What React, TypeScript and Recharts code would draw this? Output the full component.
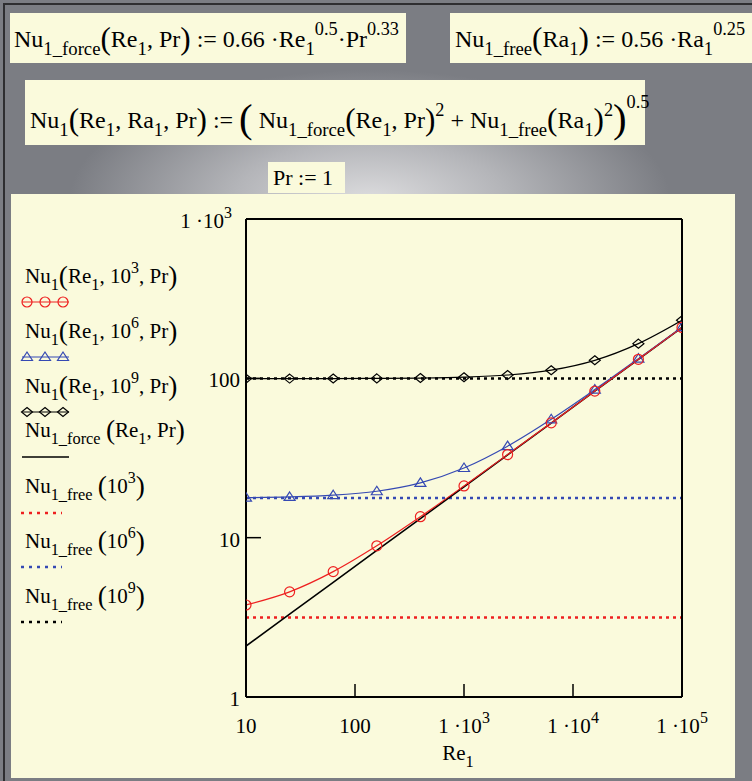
import React from "react";
import { LineChart, Line, XAxis, YAxis, ReferenceLine, Label } from "recharts";

// Re_1 sample points (log spaced)
const reValues = [10, 25.12, 63.1, 158.5, 398.1, 1000, 2512, 6310, 15849, 39811, 100000];
// Nu_1(Re_1, Ra_1, Pr) for Ra_1 = 10^3, 10^6, 10^9
const nuRa1e3 = [3.78, 4.57, 6.12, 8.89, 13.54, 21.11, 33.23, 52.52, 83.15, 131.7, 208.7];
const nuRa1e6 = [17.83, 18.01, 18.47, 19.56, 22.07, 27.37, 37.52, 55.33, 84.96, 132.9, 209.5];
const nuRa1e9 = [99.6, 99.63, 99.72, 99.92, 100.4, 101.7, 104.9, 112.5, 129.7, 165.1, 231.2];
// Nu_1_force(Re_1, Pr)
const nuForce = [2.09, 3.31, 5.24, 8.31, 13.17, 20.87, 33.08, 52.42, 83.09, 131.7, 208.7];
// Nu_1_free(Ra_1)
const freeRa1e3 = 3.15;
const freeRa1e6 = 17.71;
const freeRa1e9 = 99.58;

const xTicks = [10, 100, 1000, 10000, 100000];
const yTicks = [1, 10, 100, 1000];

const data = reValues.map((re, i) => ({
  re,
  ra3: nuRa1e3[i],
  ra6: nuRa1e6[i],
  ra9: nuRa1e9[i],
  force: nuForce[i],
}));

const RED = "#ee2020";
const BLUE = "#3549b3";
const BLACK = "#000000";
const YELLOW = "#fafadc";
const FONT = "'Liberation Serif', 'Times New Roman', serif";

// chart placement inside the page
const CHART_LEFT = 11;
const CHART_TOP = 194;
const CHART_W = 724;
const CHART_H = 584;
const PLOT_LEFT = 235;
const PLOT_BOTTOM = 503;

type Seg = { t: string; k?: "sub" | "sup" | "big" | "huge" | "sup2" };

function Rich({ x, y, size, segs, anchor = "start" }: { x: number; y: number; size: number; segs: Seg[]; anchor?: string }) {
  let cur = 0;
  return (
    <text x={x} y={y} fontSize={size} fontFamily={FONT} textAnchor={anchor as any} fill="#000" style={{ whiteSpace: "pre" }}>
      {segs.map((s, i) => {
        let target = 0;
        let fs = size;
        if (s.k === "sub") { target = size * 0.34; fs = size * 0.78; }
        if (s.k === "sup") { target = -size * 0.5; fs = size * 0.76; }
        if (s.k === "sup2") { target = -size * 0.85; fs = size * 0.76; }
        if (s.k === "big") { target = size * 0.1; fs = size * 1.3; }
        if (s.k === "huge") { target = size * 0.18; fs = size * 1.7; }
        const dy = target - cur;
        cur = target;
        return (
          <tspan key={i} dy={dy} fontSize={fs}>
            {s.t}
          </tspan>
        );
      })}
    </text>
  );
}

function tickSegs(v: number): Seg[] {
  if (v >= 1000) return [{ t: "1 ·10" }, { t: String(Math.round(Math.log10(v))), k: "sup" }];
  return [{ t: String(v) }];
}

const YTick = (props: any) => {
  const { payload } = props;
  const cy = payload.coordinate ?? props.y;
  const v = payload.value;
  return <Rich x={PLOT_LEFT - 6 - (v >= 1000 ? 8 : 0)} y={cy + 9} size={21} anchor="end" segs={tickSegs(v)} />;
};

const XTick = (props: any) => {
  const { payload } = props;
  const cx = payload.coordinate ?? props.x;
  return <Rich x={cx} y={PLOT_BOTTOM + 36} size={21} anchor="middle" segs={tickSegs(payload.value)} />;
};

const circleDot = (color: string) => (p: any) => (
  <circle key={`c${p.index}`} cx={p.cx} cy={p.cy} r={5} fill="none" stroke={color} strokeWidth={1.2} />
);
const triangleDot = (color: string) => (p: any) => (
  <path key={`t${p.index}`} d={`M${p.cx},${p.cy - 5} L${p.cx + 5.5},${p.cy + 3.5} L${p.cx - 5.5},${p.cy + 3.5} Z`} fill="none" stroke={color} strokeWidth={1.2} />
);
const diamondDot = (color: string) => (p: any) => (
  <path key={`d${p.index}`} d={`M${p.cx},${p.cy - 4.5} L${p.cx + 5.5},${p.cy} L${p.cx},${p.cy + 4.5} L${p.cx - 5.5},${p.cy} Z`} fill="none" stroke={color} strokeWidth={1.2} />
);

// legend entries: label, sample kind, colour, text baseline, sample y
const legendItems: { segs: Seg[]; kind: string; color: string; ty: number; sy: number }[] = [
  { segs: [{ t: "Nu" }, { t: "1", k: "sub" }, { t: "(", k: "big" }, { t: "Re" }, { t: "1", k: "sub" }, { t: ", 10" }, { t: "3", k: "sup" }, { t: ", Pr" }, { t: ")", k: "big" }], kind: "circle", color: RED, ty: 283, sy: 302 },
  { segs: [{ t: "Nu" }, { t: "1", k: "sub" }, { t: "(", k: "big" }, { t: "Re" }, { t: "1", k: "sub" }, { t: ", 10" }, { t: "6", k: "sup" }, { t: ", Pr" }, { t: ")", k: "big" }], kind: "triangle", color: BLUE, ty: 338, sy: 357 },
  { segs: [{ t: "Nu" }, { t: "1", k: "sub" }, { t: "(", k: "big" }, { t: "Re" }, { t: "1", k: "sub" }, { t: ", 10" }, { t: "9", k: "sup" }, { t: ", Pr" }, { t: ")", k: "big" }], kind: "diamond", color: BLACK, ty: 393, sy: 412 },
  { segs: [{ t: "Nu" }, { t: "1_force", k: "sub" }, { t: " " }, { t: "(", k: "big" }, { t: "Re" }, { t: "1", k: "sub" }, { t: ", Pr" }, { t: ")", k: "big" }], kind: "solid", color: BLACK, ty: 437, sy: 457 },
  { segs: [{ t: "Nu" }, { t: "1_free", k: "sub" }, { t: " " }, { t: "(", k: "big" }, { t: "10" }, { t: "3", k: "sup" }, { t: ")", k: "big" }], kind: "dotted", color: RED, ty: 493, sy: 513 },
  { segs: [{ t: "Nu" }, { t: "1_free", k: "sub" }, { t: " " }, { t: "(", k: "big" }, { t: "10" }, { t: "6", k: "sup" }, { t: ")", k: "big" }], kind: "dotted", color: BLUE, ty: 548, sy: 567 },
  { segs: [{ t: "Nu" }, { t: "1_free", k: "sub" }, { t: " " }, { t: "(", k: "big" }, { t: "10" }, { t: "9", k: "sup" }, { t: ")", k: "big" }], kind: "dotted", color: BLACK, ty: 603, sy: 622 },
];

function LegendSample({ kind, color, y }: { kind: string; color: string; y: number }) {
  const xs = [27, 45, 63];
  if (kind === "dotted") {
    return <line x1={21} x2={62} y1={y} y2={y} stroke={color} strokeWidth={2.5} strokeDasharray="3 5" />;
  }
  return (
    <g>
      <line x1={22} x2={69} y1={y} y2={y} stroke={color} strokeWidth={kind === "solid" ? 1.6 : 1.2} />
      {kind !== "solid" &&
        xs.map((x) => {
          if (kind === "circle") return <circle key={x} cx={x} cy={y} r={5} fill="none" stroke={color} strokeWidth={1.2} />;
          if (kind === "triangle") return <path key={x} d={`M${x},${y - 5} L${x + 5.5},${y + 3.5} L${x - 5.5},${y + 3.5} Z`} fill="none" stroke={color} strokeWidth={1.2} />;
          return <path key={x} d={`M${x},${y - 4.5} L${x + 5.5},${y} L${x},${y + 4.5} L${x - 5.5},${y} Z`} fill="none" stroke={color} strokeWidth={1.2} />;
        })}
    </g>
  );
}

const formula1: Seg[] = [{ t: "Nu" }, { t: "1_force", k: "sub" }, { t: "(", k: "big" }, { t: "Re" }, { t: "1", k: "sub" }, { t: ", Pr" }, { t: ")", k: "big" }, { t: " := 0.66 ·Re" }, { t: "1", k: "sub" }, { t: "0.5", k: "sup" }, { t: "·Pr" }, { t: "0.33", k: "sup" }];
const formula2: Seg[] = [{ t: "Nu" }, { t: "1_free", k: "sub" }, { t: "(", k: "big" }, { t: "Ra" }, { t: "1", k: "sub" }, { t: ")", k: "big" }, { t: " := 0.56 ·Ra" }, { t: "1", k: "sub" }, { t: "0.25", k: "sup" }];
const formula3: Seg[] = [
  { t: "Nu" }, { t: "1", k: "sub" }, { t: "(", k: "big" }, { t: "Re" }, { t: "1", k: "sub" }, { t: ", Ra" }, { t: "1", k: "sub" }, { t: ", Pr" }, { t: ")", k: "big" },
  { t: " := " }, { t: "(", k: "huge" }, { t: " Nu" }, { t: "1_force", k: "sub" }, { t: "(", k: "big" }, { t: "Re" }, { t: "1", k: "sub" }, { t: ", Pr" }, { t: ")", k: "big" }, { t: "2", k: "sup" },
  { t: " + Nu" }, { t: "1_free", k: "sub" }, { t: "(", k: "big" }, { t: "Ra" }, { t: "1", k: "sub" }, { t: ")", k: "big" }, { t: "2", k: "sup" }, { t: ")", k: "huge" }, { t: "0.5", k: "sup2" },
];
const formula4: Seg[] = [{ t: "Pr := 1" }];

export default function App() {
  return (
    <div
      style={{
        position: "absolute",
        left: 0,
        top: 0,
        width: 752,
        height: 781,
        background:
          "radial-gradient(ellipse 300px 130px at 370px 200px, #dcdcde 0%, #b4b5b9 45%, #7b7d83 100%), #7a7c82",
        overflow: "hidden",
      }}
    >
      {/* dark frame line on the left and top */}
      <div style={{ position: "absolute", left: 3, top: 3, width: 2, height: 778, background: "#2e2e30" }} />
      <div style={{ position: "absolute", left: 3, top: 3, width: 749, height: 2, background: "#2e2e30" }} />
      {/* worksheet region */}
      <div style={{ position: "absolute", left: CHART_LEFT, top: CHART_TOP, width: CHART_W, height: CHART_H, background: YELLOW }} />

      <svg width={752} height={194} style={{ position: "absolute", left: 0, top: 0 }}>
        <rect x={10} y={13} width={396} height={50} fill={YELLOW} />
        <rect x={450} y={13} width={302} height={50} fill={YELLOW} />
        <rect x={25} y={80} width={620} height={65} fill={YELLOW} />
        <rect x={268} y={162} width={77} height={31} fill={YELLOW} />
        <Rich x={14} y={47} size={24} segs={formula1} />
        <Rich x={455} y={47} size={24} segs={formula2} />
        <Rich x={30} y={128} size={24} segs={formula3} />
        <Rich x={273} y={185} size={22} segs={formula4} />
      </svg>

      <div style={{ position: "absolute", left: CHART_LEFT, top: CHART_TOP }}>
        <LineChart width={CHART_W} height={CHART_H} data={data} margin={{ top: 24, right: 52, bottom: 0, left: 0 }}>
          <XAxis
            dataKey="re"
            type="number"
            scale="log"
            domain={[10, 100000]}
            ticks={xTicks}
            allowDataOverflow
            height={81}
            axisLine={{ stroke: BLACK, strokeWidth: 2 }}
            tickLine={{ stroke: BLACK, strokeWidth: 1.5 }}
            tickSize={-13}
            tick={<XTick />}
            interval={0}
          >
            <Label
              content={(p: any) => {
                const vb = p.viewBox;
                return <Rich x={vb.x + vb.width / 2 - 6} y={vb.y + 63} size={21} anchor="middle" segs={[{ t: "Re" }, { t: "1", k: "sub" }]} />;
              }}
            />
          </XAxis>
          <XAxis
            xAxisId="top"
            orientation="top"
            dataKey="re"
            type="number"
            scale="log"
            domain={[10, 100000]}
            ticks={xTicks}
            allowDataOverflow
            height={1}
            axisLine={{ stroke: BLACK, strokeWidth: 2 }}
            tickLine={{ stroke: BLACK, strokeWidth: 1.5 }}
            tickSize={-13}
            tick={false}
            interval={0}
          />
          <YAxis
            type="number"
            scale="log"
            domain={[1, 1000]}
            ticks={yTicks}
            allowDataOverflow
            width={235}
            axisLine={{ stroke: BLACK, strokeWidth: 2 }}
            tickLine={{ stroke: BLACK, strokeWidth: 1.5 }}
            tickSize={-15}
            tick={<YTick />}
            interval={0}
          />
          <YAxis
            yAxisId="r"
            orientation="right"
            type="number"
            scale="log"
            domain={[1, 1000]}
            ticks={yTicks}
            allowDataOverflow
            width={1}
            axisLine={{ stroke: BLACK, strokeWidth: 2 }}
            tickLine={{ stroke: BLACK, strokeWidth: 1.5 }}
            tickSize={-15}
            tick={false}
            interval={0}
          />
          <ReferenceLine y={freeRa1e3} stroke={RED} strokeWidth={2.5} strokeDasharray="3 4" />
          <ReferenceLine y={freeRa1e6} stroke={BLUE} strokeWidth={2.5} strokeDasharray="3 4" />
          <ReferenceLine y={freeRa1e9} stroke={BLACK} strokeWidth={2.5} strokeDasharray="3 4" />
          <Line dataKey="force" type="linear" stroke={BLACK} strokeWidth={1.6} dot={false} isAnimationActive={false} />
          <Line dataKey="ra9" type="monotone" stroke={BLACK} strokeWidth={1.2} dot={diamondDot(BLACK)} isAnimationActive={false} />
          <Line dataKey="ra6" type="monotone" stroke={BLUE} strokeWidth={1.2} dot={triangleDot(BLUE)} isAnimationActive={false} />
          <Line dataKey="ra3" type="monotone" stroke={RED} strokeWidth={1.2} dot={circleDot(RED)} isAnimationActive={false} />
        </LineChart>
      </div>

      <svg width={240} height={781} style={{ position: "absolute", left: 0, top: 0, pointerEvents: "none" }}>
        {legendItems.map((it, i) => (
          <g key={i}>
            <Rich x={25} y={it.ty} size={21} segs={it.segs} />
            <LegendSample kind={it.kind} color={it.color} y={it.sy} />
          </g>
        ))}
      </svg>
    </div>
  );
}
